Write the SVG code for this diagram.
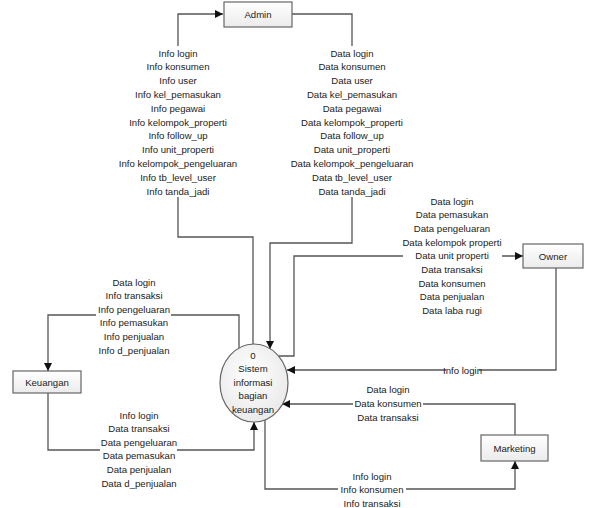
<svg xmlns="http://www.w3.org/2000/svg" width="593" height="508" viewBox="0 0 593 508">
  <defs>
    <linearGradient id="boxFill" x1="0" y1="0" x2="0" y2="1">
      <stop offset="0" stop-color="#ffffff"/>
      <stop offset="1" stop-color="#ebebeb"/>
    </linearGradient>
    <radialGradient id="procFill" cx="0.45" cy="0.4" r="0.7">
      <stop offset="0" stop-color="#ffffff"/>
      <stop offset="1" stop-color="#e6e6e6"/>
    </radialGradient>
    <marker id="arrow" viewBox="0 0 10 10" refX="10" refY="5" markerWidth="8" markerHeight="8" markerUnits="userSpaceOnUse" orient="auto">
      <path d="M0,0 L10,5 L0,10 z" fill="#111"/>
    </marker>
  </defs>
  <style>
    .ent { fill: url(#boxFill); stroke: #666; stroke-width: 1.2; }
    .proc { fill: url(#procFill); stroke: #666; stroke-width: 1.2; }
    .flow { fill: none; stroke: #555; stroke-width: 1.3; marker-end: url(#arrow); }
    .bg { fill: #ffffff; }
    text { font-family: "Liberation Sans", Arial, sans-serif; font-size: 9.6px; fill: #222; text-anchor: middle; dominant-baseline: central; }
  </style>

  <rect width="593" height="508" fill="#ffffff"/>

  <!-- data flows -->
  <g id="connectors">
    <path class="flow" d="M253,345 V237 H178 V14 H223"/>
    <path class="flow" d="M292,14 H352 V243 H270 V349"/>
    <path class="flow" d="M279,356 H294 V256 H523"/>
    <path class="flow" d="M556,268 V370 H287"/>
    <path class="flow" d="M239,348 V315 H48 V371"/>
    <path class="flow" d="M48,393 V450 H254 V422"/>
    <path class="flow" d="M515,435 V404 H282"/>
    <path class="flow" d="M265,420 V489 H515 V461"/>
  </g>

  <!-- flow labels -->
  <g id="labels">
    <g id="lbl-to-admin">
      <rect class="bg" x="118" y="46" width="120" height="151"/>
      <text x="178" y="53">Info login</text>
      <text x="178" y="66.8">Info konsumen</text>
      <text x="178" y="80.6">Info user</text>
      <text x="178" y="94.4">Info kel_pemasukan</text>
      <text x="178" y="108.2">Info pegawai</text>
      <text x="178" y="122">Info kelompok_properti</text>
      <text x="178" y="135.8">Info follow_up</text>
      <text x="178" y="149.6">Info unit_properti</text>
      <text x="178" y="163.4">Info kelompok_pengeluaran</text>
      <text x="178" y="177.2">Info tb_level_user</text>
      <text x="178" y="191">Info tanda_jadi</text>
    </g>
    <g id="lbl-from-admin">
      <rect class="bg" x="290" y="46" width="124" height="151"/>
      <text x="352" y="53">Data login</text>
      <text x="352" y="66.8">Data konsumen</text>
      <text x="352" y="80.6">Data user</text>
      <text x="352" y="94.4">Data kel_pemasukan</text>
      <text x="352" y="108.2">Data pegawai</text>
      <text x="352" y="122">Data kelompok_properti</text>
      <text x="352" y="135.8">Data follow_up</text>
      <text x="352" y="149.6">Data unit_properti</text>
      <text x="352" y="163.4">Data kelompok_pengeluaran</text>
      <text x="352" y="177.2">Data tb_level_user</text>
      <text x="352" y="191">Data tanda_jadi</text>
    </g>
    <g id="lbl-to-owner">
      <rect class="bg" x="403" y="194" width="99" height="124"/>
      <text x="452" y="201">Data login</text>
      <text x="452" y="214.7">Data pemasukan</text>
      <text x="452" y="228.4">Data pengeluaran</text>
      <text x="452" y="242.1">Data kelompok properti</text>
      <text x="452" y="255.8">Data unit properti</text>
      <text x="452" y="269.5">Data transaksi</text>
      <text x="452" y="283.2">Data konsumen</text>
      <text x="452" y="296.9">Data penjualan</text>
      <text x="452" y="310.6">Data laba rugi</text>
    </g>
    <g id="lbl-from-owner">
      <rect class="bg" x="446" y="364" width="33" height="12"/>
      <text x="462.5" y="370">Info login</text>
    </g>
    <g id="lbl-to-keuangan">
      <rect class="bg" x="96" y="275" width="75" height="82"/>
      <text x="134" y="282">Data login</text>
      <text x="134" y="295.6">Info transaksi</text>
      <text x="134" y="309.2">Info pengeluaran</text>
      <text x="134" y="322.8">Info pemasukan</text>
      <text x="134" y="336.4">Info penjualan</text>
      <text x="134" y="350">Info d_penjualan</text>
    </g>
    <g id="lbl-from-keuangan">
      <rect class="bg" x="100" y="408" width="77" height="82"/>
      <text x="139" y="415">Info login</text>
      <text x="139" y="428.6">Data transaksi</text>
      <text x="139" y="442.2">Data pengeluaran</text>
      <text x="139" y="455.8">Data pemasukan</text>
      <text x="139" y="469.4">Data penjualan</text>
      <text x="139" y="483">Data d_penjualan</text>
    </g>
    <g id="lbl-from-marketing">
      <rect class="bg" x="353" y="382" width="70" height="42"/>
      <text x="388" y="389.5">Data login</text>
      <text x="388" y="403.5">Data konsumen</text>
      <text x="388" y="417.5">Data transaksi</text>
    </g>
    <g id="lbl-to-marketing">
      <rect class="bg" x="338" y="469" width="68" height="39"/>
      <text x="372" y="476">Info login</text>
      <text x="372" y="489.5">Info konsumen</text>
      <text x="372" y="503">Info transaksi</text>
    </g>
  </g>

  <!-- external entities -->
  <g id="admin">
    <rect class="ent" x="224" y="2" width="68" height="25"/>
    <text x="258" y="14.5">Admin</text>
  </g>
  <g id="owner">
    <rect class="ent" x="523" y="244" width="60" height="24"/>
    <text x="553" y="256">Owner</text>
  </g>
  <g id="keuangan">
    <rect class="ent" x="13" y="371" width="68" height="22"/>
    <text x="47" y="382">Keuangan</text>
  </g>
  <g id="marketing">
    <rect class="ent" x="481" y="435" width="67" height="26"/>
    <text x="514.5" y="448">Marketing</text>
  </g>

  <!-- process 0 -->
  <g id="proses-0">
    <ellipse class="proc" cx="254" cy="383" rx="34" ry="39"/>
    <text x="253" y="355">0</text>
    <text x="253" y="368.5">Sistem</text>
    <text x="253" y="382">informasi</text>
    <text x="253" y="395.5">bagian</text>
    <text x="253" y="409">keuangan</text>
  </g>
</svg>
